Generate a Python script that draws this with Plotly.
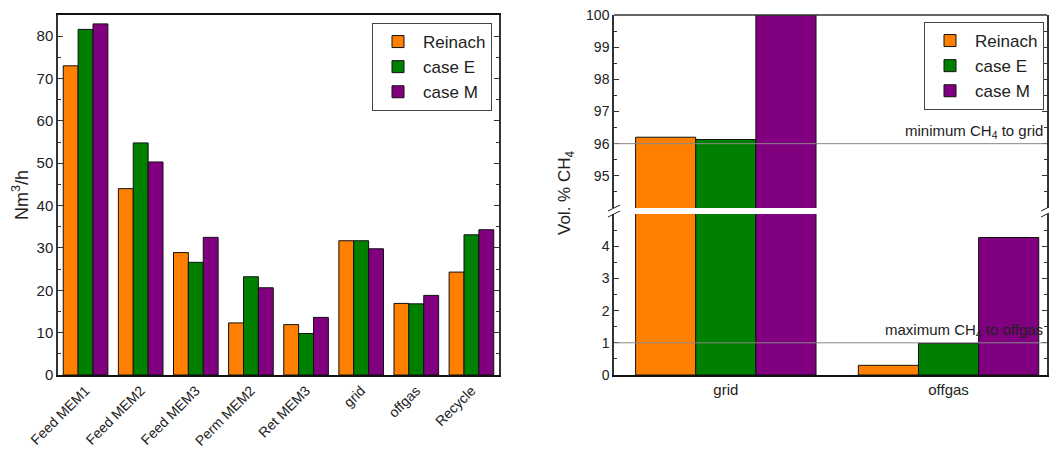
import plotly.graph_objects as go

# ---------------- data ----------------
flow_categories = ["Feed MEM1", "Feed MEM2", "Feed MEM3", "Perm MEM2", "Ret MEM3", "grid", "offgas", "Recycle"]
flow_reinach = [73.0, 44.0, 28.9, 12.3, 11.9, 31.7, 16.9, 24.3]
flow_case_e = [81.6, 54.8, 26.6, 23.2, 9.8, 31.7, 16.8, 33.1]
flow_case_m = [82.9, 50.3, 32.5, 20.6, 13.6, 29.8, 18.8, 34.3]

ch4_categories = ["grid", "offgas"]
ch4_reinach = [96.2, 0.3]
ch4_case_e = [96.13, 0.98]
ch4_case_m = [100.0, 4.27]

series_names = ["Reinach", "case E", "case M"]
series_colors = ["#FF8000", "#008000", "#800080"]

min_ch4_grid = 96
max_ch4_offgas = 1

# ---------------- geometry helpers (reference pixels -> paper) ----------------
OFF = 8                      # page body margin of the browser
W, H = 1057 - OFF, 450 - OFF
T = 15 - OFF
B = H - (375 - OFF)
PH = H - T - B


def px(x):
    return (x - OFF) / W


def py(y):
    return (375 - y) / PH


FONT = "Arial, Liberation Sans, sans-serif"
TXT = "#222222"

fig = go.Figure()

flow_series = [flow_reinach, flow_case_e, flow_case_m]
ch4_series = [ch4_reinach, ch4_case_e, ch4_case_m]

for name, color, vals in zip(series_names, series_colors, flow_series):
    fig.add_trace(go.Bar(
        x=flow_categories, y=vals, name=name, xaxis="x", yaxis="y",
        marker=dict(color=color, line=dict(color="#111111", width=1)),
        legend="legend", showlegend=True,
    ))

for name, color, vals in zip(series_names, series_colors, ch4_series):
    fig.add_trace(go.Bar(
        x=ch4_categories, y=vals, name=name, xaxis="x2", yaxis="y2",
        marker=dict(color=color, line=dict(color="#111111", width=1)),
        legend="legend2", showlegend=True,
    ))
    fig.add_trace(go.Bar(
        x=ch4_categories, y=vals, name=name, xaxis="x2", yaxis="y3",
        marker=dict(color=color, line=dict(color="#111111", width=1)),
        legend="legend2", showlegend=False,
    ))


def yax_common(size):
    return dict(
        showline=True, linecolor="#333333", linewidth=1.5,
        ticks="inside", ticklen=5, tickwidth=1, tickcolor="#333333",
        mirror="ticks", showgrid=False, zeroline=False,
        tickfont=dict(family=FONT, size=size, color=TXT),
        automargin=False, ticklabeloverflow="allow",
    )


RIGHT_EDGE = 1047
left_lo, left_hi = px(58), px(499)
right_lo, right_hi = px(614), px(RIGHT_EDGE)
low_top = py(214)
up_bot = py(208)

legend_style = dict(
    xanchor="right", yanchor="top",
    bgcolor="white", bordercolor="#444444", borderwidth=1,
    font=dict(family=FONT, size=17, color=TXT),
    tracegroupgap=0, itemwidth=40,
)

fig.update_layout(
    width=W, height=H,
    margin=dict(l=0, r=0, t=T, b=B),
    paper_bgcolor="white", plot_bgcolor="white",
    barmode="group", bargap=0.19, bargroupgap=0,
    font=dict(family=FONT, color=TXT),
    xaxis=dict(
        domain=[left_lo, left_hi], range=[-0.5, 7.5], anchor="y",
        showline=True, linecolor="#111111", linewidth=2, mirror=True,
        ticks="", tickangle=-45, tickfont=dict(family=FONT, size=14, color=TXT),
        showgrid=False, automargin=False, ticklabeloverflow="allow",
    ),
    yaxis=dict(
        domain=[0, 1], range=[0, 85], anchor="x", dtick=10, tick0=0,
        minor=dict(dtick=5, tick0=5, ticks="inside", ticklen=3, tickcolor="#333333"),
        **yax_common(15),
    ),
    xaxis2=dict(
        domain=[right_lo, right_hi], range=[-0.502, 1.442], anchor="y2",
        showline=True, linecolor="#111111", linewidth=2,
        ticks="", tickfont=dict(family=FONT, size=15, color=TXT),
        showgrid=False, automargin=False,
    ),
    yaxis2=dict(
        domain=[0, low_top], range=[0, 5], anchor="x2",
        tickmode="array", tickvals=[0, 1, 2, 3, 4],
        minor=dict(tickmode="array", tickvals=[0.5, 1.5, 2.5, 3.5, 4.5],
                   ticks="inside", ticklen=3, tickcolor="#333333"),
        **yax_common(14),
    ),
    yaxis3=dict(
        domain=[up_bot, 1], range=[94, 100], anchor="x2",
        tickmode="array", tickvals=[95, 96, 97, 98, 99, 100],
        minor=dict(tickmode="array", tickvals=[94.5, 95.5, 96.5, 97.5, 98.5, 99.5],
                   ticks="inside", ticklen=3, tickcolor="#333333"),
        **yax_common(14),
    ),
    legend=dict(x=px(492), y=py(23), **legend_style),
    legend2=dict(x=px(RIGHT_EDGE - 3), y=py(22), **legend_style),
)

shapes = []
# top frame line of the right panel
shapes.append(dict(type="line", xref="paper", yref="paper", x0=right_lo, x1=right_hi,
                   y0=1, y1=1, line=dict(color="#333333", width=1.5)))
# threshold lines
shapes.append(dict(type="line", xref="x2 domain", yref="y3", x0=0, x1=1,
                   y0=min_ch4_grid, y1=min_ch4_grid, line=dict(color="#888888", width=1), layer="above"))
shapes.append(dict(type="line", xref="x2 domain", yref="y2", x0=0, x1=1,
                   y0=max_ch4_offgas, y1=max_ch4_offgas, line=dict(color="#888888", width=1), layer="above"))
# axis break marks
for xc in (614, RIGHT_EDGE):
    for dy in (-3, 3):
        shapes.append(dict(type="line", xref="paper", yref="paper",
                           x0=px(xc - 6), y0=py(211 + dy + 3), x1=px(xc + 6), y1=py(211 + dy - 3),
                           line=dict(color="#222222", width=1)))

annotations = [
    dict(text="Nm<sup>3</sup>/h", xref="paper", yref="paper", x=px(20), y=py(195),
         xanchor="center", yanchor="middle",
         textangle=-90, showarrow=False, font=dict(family=FONT, size=18, color=TXT)),
    dict(text="Vol. % CH<sub>4</sub>", xref="paper", yref="paper", x=px(566), y=py(193),
         xanchor="center", yanchor="middle",
         textangle=-90, showarrow=False, font=dict(family=FONT, size=17, color=TXT)),
    dict(text="minimum CH<sub>4</sub> to grid", xref="paper", yref="y3", x=px(RIGHT_EDGE - 2), y=min_ch4_grid,
         xanchor="right", yanchor="bottom", yshift=1, showarrow=False,
         font=dict(family=FONT, size=15, color=TXT)),
    dict(text="maximum CH<sub>4</sub> to offgas", xref="paper", yref="y2", x=px(RIGHT_EDGE - 2), y=max_ch4_offgas,
         xanchor="right", yanchor="bottom", yshift=1, showarrow=False,
         font=dict(family=FONT, size=15, color=TXT)),
]

fig.update_layout(shapes=shapes, annotations=annotations)

fig.write_html("out.html")
